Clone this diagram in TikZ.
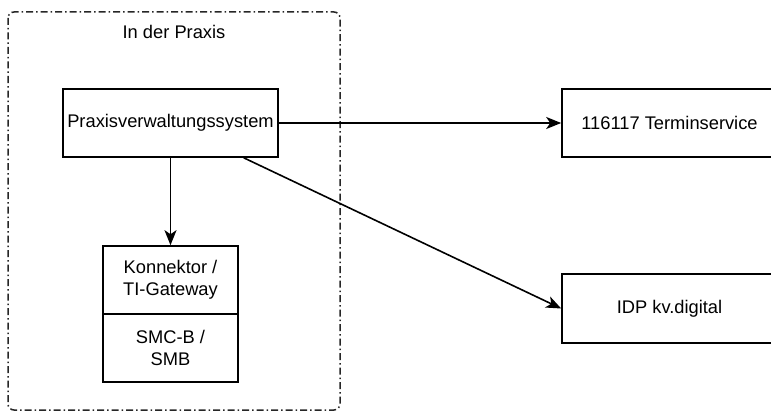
\documentclass[tikz,border=0pt]{standalone}
\usepackage{fontspec}
\setmainfont{Liberation Sans}
\usetikzlibrary{arrows.meta}
\begin{document}
\begin{tikzpicture}[x=1pt,y=-1pt,
  font=\fontsize{18.3}{22}\selectfont,
  box/.style={draw, line width=1.6pt, align=center, inner sep=0pt},
  conn/.style={line width=1.6pt, -{Stealth[length=15pt,width=12pt,inset=4pt]}},
  group/.style={draw=black!85, line width=1.5pt, rounded corners=6pt, dash pattern=on 7pt off 3pt on 1.5pt off 3pt}]
\useasboundingbox (0,0) rectangle (771,412);
\draw[group] (8,12) rectangle (340,410);
\node (lbl) at (174,32) {In der Praxis};
\node[box, minimum width=215pt, minimum height=68pt] (pvs) at (170.5,123) {Praxisverwaltungssystem};
\node[box, minimum width=215pt, minimum height=68pt] (ts) at (669.5,123) {116117 Terminservice};
\node[box, minimum width=215pt, minimum height=69pt] (idp) at (669.5,308.5) {IDP kv.digital};
\node[box, minimum width=135pt, minimum height=68pt] (kon) at (170.5,280) {Konnektor /\\TI-Gateway};
\node[box, minimum width=135pt, minimum height=68pt] (smc) at (170.5,348) {SMC-B /\\SMB};
\draw[conn] (pvs) -- (ts);
\draw[conn] (pvs) -- (idp.west);
\draw[conn] (pvs.south) -- (kon.north);
\end{tikzpicture}
\end{document}
